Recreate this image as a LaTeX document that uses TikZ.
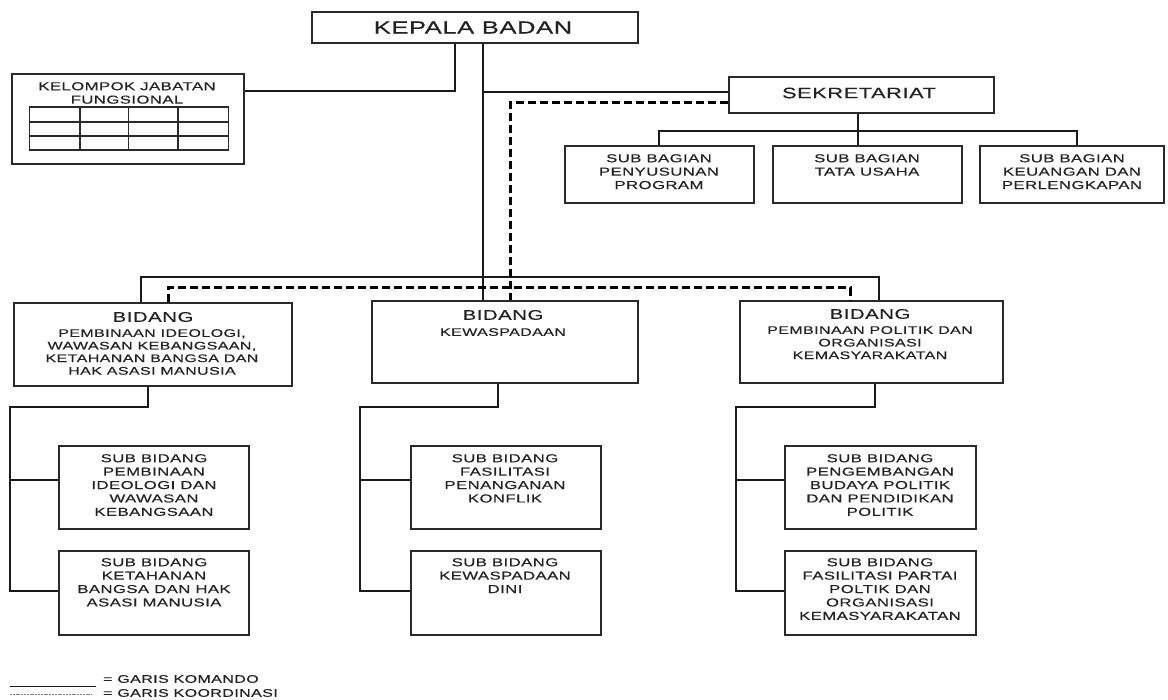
\documentclass[tikz,border=0pt]{standalone}
\usepackage{fontspec}
\setmainfont{Liberation Sans}
\newfontfamily\orgfont[FakeStretch=1.45,LetterSpace=4,FakeBold=0.5]{Liberation Sans}
\usetikzlibrary{calc}
\definecolor{ink}{HTML}{1A1A1A}
\definecolor{boxc}{HTML}{2A2A2A}
\definecolor{txt}{HTML}{222222}
\begin{document}
\begin{tikzpicture}[x=1pt,y=-1pt,
  boxst/.style={draw=boxc, line width=1.3pt, inner sep=0pt},
  conn/.style={draw=ink, line width=1.3pt},
  koord/.style={draw=black, line width=3pt, dash pattern=on 8pt off 4pt},
  lbl/.style={font=\orgfont\fontsize{11.5}{13.4}\selectfont, align=center, inner sep=0pt, anchor=north, text=txt},
  lblb/.style={font=\orgfont\fontsize{11}{12.6}\selectfont, align=center, inner sep=0pt, anchor=north, text=txt},
  hd/.style={font=\orgfont\fontsize{14}{16}\selectfont, inner sep=0pt, text=txt},
  legend/.style={font=\orgfont\fontsize{11}{13}\selectfont, inner sep=0pt, anchor=west, text=txt},
]
\useasboundingbox (0,0) rectangle (1168,700);

% boxes
\node[boxst, minimum width=326, minimum height=31] (K) at (475,27.5) {};
\node[boxst, minimum width=232, minimum height=90] (KJF) at (128,119) {};
\node[boxst, minimum width=265, minimum height=36] (SEK) at (861.5,95) {};
\node[boxst, minimum width=189, minimum height=57] (SG1) at (659.5,174.5) {};
\node[boxst, minimum width=189, minimum height=57] (SG2) at (867.5,174.5) {};
\node[boxst, minimum width=184, minimum height=57] (SG3) at (1072,174.5) {};
\node[boxst, minimum width=278, minimum height=83] (B1) at (153,344.5) {};
\node[boxst, minimum width=266, minimum height=82] (B2) at (505,342) {};
\node[boxst, minimum width=263, minimum height=82] (B3) at (871.5,342) {};
\node[boxst, minimum width=190, minimum height=83] (SA1) at (154,487.5) {};
\node[boxst, minimum width=190, minimum height=84] (SA2) at (154,593) {};
\node[boxst, minimum width=190, minimum height=83] (SB1) at (506,487.5) {};
\node[boxst, minimum width=190, minimum height=84] (SB2) at (506,593) {};
\node[boxst, minimum width=191, minimum height=83] (SC1) at (880.5,487.5) {};
\node[boxst, minimum width=191, minimum height=84] (SC2) at (880.5,593) {};

% table inside KJF
\draw[draw=boxc, line width=1.2pt] (29.5,107) rectangle (228.5,150);
\foreach \yy in {122,136} \draw[draw=boxc, line width=1.2pt] (29.5,\yy) -- (228.5,\yy);
\foreach \xx in {80,128.6,178} \draw[draw=boxc, line width=1.2pt] (\xx,107) -- (\xx,150);

% texts
\node[font=\orgfont\fontsize{17.5}{20}\selectfont, inner sep=0pt, text=txt] (tK) at (473,27.5) {KEPALA BADAN};
\node[lbl] (tKJF) at (127,82) {KELOMPOK JABATAN\\FUNGSIONAL};
\node[font=\orgfont\fontsize{15}{18}\selectfont, inner sep=0pt, text=txt] (tSEK) at (859,93) {SEKRETARIAT};
\node[lbl] (tSG1) at (659,154) {SUB BAGIAN\\PENYUSUNAN\\PROGRAM};
\node[lbl] (tSG2) at (867,154) {SUB BAGIAN\\TATA USAHA};
\node[lbl] (tSG3) at (1072,154) {SUB BAGIAN\\KEUANGAN DAN\\PERLENGKAPAN};
\node[hd] (hB1) at (153,317) {BIDANG};
\node[lblb] (tB1) at (152,329) {PEMBINAAN IDEOLOGI,\\WAWASAN KEBANGSAAN,\\KETAHANAN BANGSA DAN\\HAK ASASI MANUSIA};
\node[hd] (hB2) at (503,315) {BIDANG};
\node[lblb] (tB2) at (503,328) {KEWASPADAAN};
\node[hd] (hB3) at (870,314) {BIDANG};
\node[lblb] (tB3) at (870,326) {PEMBINAAN POLITIK DAN\\ORGANISASI\\KEMASYARAKATAN};
\node[lbl] (tSA1) at (154,454) {SUB BIDANG\\PEMBINAAN\\IDEOLOGI DAN\\WAWASAN\\KEBANGSAAN};
\node[lbl] (tSA2) at (154,558) {SUB BIDANG\\KETAHANAN\\BANGSA DAN HAK\\ASASI MANUSIA};
\node[lbl] (tSB1) at (505,454) {SUB BIDANG\\FASILITASI\\PENANGANAN\\KONFLIK};
\node[lbl] (tSB2) at (505,558) {SUB BIDANG\\KEWASPADAAN\\DINI};
\node[lbl] (tSC1) at (880,454) {SUB BIDANG\\PENGEMBANGAN\\BUDAYA POLITIK\\DAN PENDIDIKAN\\POLITIK};
\node[lbl] (tSC2) at (880,558) {SUB BIDANG\\FASILITASI PARTAI\\POLTIK DAN\\ORGANISASI\\KEMASYARAKATAN};

% command lines
\coordinate (jL) at (455,91);
\draw[conn] (K.south -| jL) -- (jL) -- (jL -| KJF.east);
\coordinate (jR) at (483,92);
\draw[conn] (K.south -| jR) -- (B2.north -| jR);
\draw[conn] (jR) -- (jR -| SEK.west);
\coordinate (bxl) at (141,277);
\coordinate (bxr) at (879,277);
\draw[conn] (B1.north -| bxl) -- (bxl) -- (bxr) -- (B3.north -| bxr);

\coordinate (sj) at (858,131);
\coordinate (sl) at (659,131);
\coordinate (sr) at (1077,131);
\draw[conn] (SEK.south -| sj) -- (sj) -- (SG2.north -| sj);
\draw[conn] (SG1.north -| sl) -- (sl) -- (sr) -- (SG3.north -| sr);

\coordinate (a1) at (148,407);
\coordinate (a2) at (10,407);
\coordinate (a3) at (10,480);
\coordinate (a4) at (10,591);
\draw[conn] (B1.south -| a1) -- (a1) -- (a2) -- (a4) -- (a4 -| SA2.west);
\draw[conn] (a3) -- (a3 -| SA1.west);

\coordinate (c1) at (498,407);
\coordinate (c2) at (360,407);
\coordinate (c3) at (360,480);
\coordinate (c4) at (360,591);
\draw[conn] (B2.south -| c1) -- (c1) -- (c2) -- (c4) -- (c4 -| SB2.west);
\draw[conn] (c3) -- (c3 -| SB1.west);

\coordinate (e1) at (875,407);
\coordinate (e2) at (736,407);
\coordinate (e3) at (736,480);
\coordinate (e4) at (736,591);
\draw[conn] (B3.south -| e1) -- (e1) -- (e2) -- (e4) -- (e4 -| SC2.west);
\draw[conn] (e3) -- (e3 -| SC1.west);

% coordination lines
\coordinate (dtop) at (510,103);
\coordinate (dl) at (168,288);
\coordinate (dr) at (850,288);
\draw[koord] (SEK.west |- dtop) -- (dtop) -- (B2.north -| dtop);
\draw[koord] (B1.north -| dl) -- (dl) -- (dr) -- (B3.north -| dr);

% legend
\coordinate (lga) at (10,686);
\coordinate (lgb) at (96,686);
\coordinate (lgc) at (10,694);
\coordinate (lgd) at (92,694);
\draw[draw=ink, line width=0.9pt] (lga) -- (lgb);
\draw[draw=gray, line width=0.7pt, dash pattern=on 2pt off 0.8pt] (lgc) -- (lgd);
\node[legend] (lgt1) at (103,679) {= GARIS KOMANDO};
\node[legend] (lgt2) at (103,693) {= GARIS KOORDINASI};
\end{tikzpicture}
\end{document}
